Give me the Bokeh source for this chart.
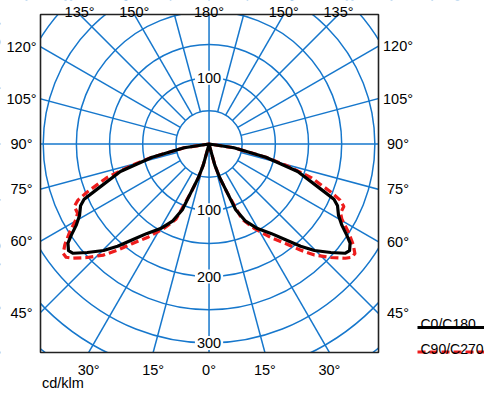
import numpy as np
from bokeh.plotting import figure
from bokeh.models import Range1d, Label
from bokeh.embed import file_html
from bokeh.resources import INLINE

# ---------------- data ----------------
# luminous intensity distribution, half-plane, gamma measured from nadir (deg), I in cd/klm
gamma_c0 = [0, 10, 15.3, 17.5, 20.2, 22.1, 25.2, 29.8, 34.7, 38.5, 41.8, 44.7, 48.3, 51.2,
            52.8, 54.9, 56.5, 58.5, 61.1, 64.3, 66.1, 67.9, 72.7, 76.9, 81.3, 90]
int_c0 = [0, 2, 33, 53, 75, 107, 128, 147, 164, 184, 207, 226, 246, 263,
          266, 260, 249, 235, 223, 215, 206, 183, 140, 88, 38, 0]

gamma_c90 = [0, 10, 15.3, 17.5, 20.2, 23.7, 28.3, 33.4, 37.7, 40.7, 43.5, 47.0, 50.0, 51.6,
             53.1, 55.1, 57.8, 60.5, 62.3, 65.1, 66.8, 68.4, 71.7, 74.5, 76.9, 81.3, 90]
int_c90 = [0, 2, 33, 53, 76, 124, 145, 169, 190, 211, 231, 251, 268, 275,
           275, 265, 248, 230, 224, 224, 215, 198, 163, 120, 88, 38, 0]

series_names = ["C0/C180", "C90/C270"]
series_colors = ["#000000", "#ee1c1c"]
unit_label = "cd/klm"

ring_values = [50, 100, 150, 200, 250, 300, 350, 400]
ring_labels_up = [100]
ring_labels_down = [100, 200, 300]
spoke_angles = list(range(0, 360, 15))
side_tick_angles = [45, 60, 75, 90, 105, 120]
top_tick_angles = [135, 150, 180]
bottom_tick_angles = [0, 15, 30]

# ---------------- layout ----------------
W, H = 484, 390
FL, FT, FS = 40, 14, 338          # diagram box left/top/size in px (figure coords)
X_MIN, X_MAX = -254.1, 255.5      # box extent, cd/klm
Y_MIN, Y_MAX = -314.4, 195.2
UPP = (X_MAX - X_MIN) / FS        # cd/klm per pixel

XLO, XHI = X_MIN - FL * UPP, X_MAX + (W - FL - FS) * UPP
YHI, YLO = Y_MAX + FT * UPP, Y_MIN - (H - FT - FS) * UPP

GRID = "#1677cc"
FONT = "Liberation Sans"
FSZ = "14.5px"

p = figure(width=W, height=H, output_backend="svg", toolbar_location=None,
           x_range=Range1d(XLO, XHI), y_range=Range1d(YLO, YHI),
           x_axis_location=None, y_axis_location=None, title=None)
p.min_border = 0
p.grid.visible = False
p.outline_line_color = None
p.background_fill_color = "white"
p.border_fill_color = "white"

# rings
p.circle(x=[0] * len(ring_values), y=[0] * len(ring_values), radius=ring_values,
         fill_color=None, line_color=GRID, line_width=1.5)

# spokes
x0s, y0s, x1s, y1s = [], [], [], []
for a in spoke_angles:
    g = np.radians(a)
    r0 = 0 if a % 90 == 0 else ring_values[0]
    r1 = 900
    x0s.append(r0 * np.sin(g)); y0s.append(-r0 * np.cos(g))
    x1s.append(r1 * np.sin(g)); y1s.append(-r1 * np.cos(g))
p.segment(x0s, y0s, x1s, y1s, line_color=GRID, line_width=1.5)

# white surround so the grid ends at the diagram box
p.quad(left=[XLO - 50, X_MAX, X_MIN, X_MIN], right=[X_MIN, XHI + 50, X_MAX, X_MAX],
       bottom=[YLO - 50, YLO - 50, Y_MAX, YLO - 50], top=[YHI + 50, YHI + 50, YHI + 50, Y_MIN],
       fill_color="white", line_color=None)
# box
p.quad(left=[X_MIN], right=[X_MAX], bottom=[Y_MIN], top=[Y_MAX],
       fill_color=None, line_color="#222222", line_width=1.6)

def full_curve(gam, inten):
    g = np.radians(np.array(gam, dtype=float))
    r = np.array(inten, dtype=float)
    xr, yr = r * np.sin(g), -r * np.cos(g)
    xs = list(xr) + list(-xr[::-1])
    ys = list(yr) + list(yr[::-1])
    return xs, ys

xs90, ys90 = full_curve(gamma_c90, int_c90)
p.line(xs90, ys90, line_color=series_colors[1], line_width=3.2, line_dash="8 4",
       line_join="round")
xs0, ys0 = full_curve(gamma_c0, int_c0)
p.line(xs0, ys0, line_color=series_colors[0], line_width=3.2, line_join="round")

def lab(x, y, text, align="center", baseline="middle", size=FSZ, **kw):
    p.add_layout(Label(x=x, y=y, text=text, text_align=align, text_baseline=baseline,
                       text_font=FONT, text_font_size=size, text_color="black", **kw))

# ring labels
for v in ring_labels_up:
    lab(0, v, str(v), background_fill_color="white", padding=2)
for v in ring_labels_down:
    lab(0, -v, str(v), background_fill_color="white", padding=2)

# side angle labels
for a in side_tick_angles:
    g = np.radians(a)
    yl = X_MIN * np.cos(g) / np.sin(g)
    yr = -X_MAX * np.cos(g) / np.sin(g)
    lab(X_MIN - 19 * UPP, yl, f"{a}°")
    lab(X_MAX + 19.5 * UPP, yr, f"{a}°")

# top angle labels
for a in top_tick_angles:
    g = np.radians(a)
    xt = Y_MAX * np.sin(g) / (-np.cos(g))
    for s in ([1] if a == 180 else [-1, 1]):
        lab(s * xt, Y_MAX + 2.5 * UPP, f"{a}°", baseline="alphabetic")

# bottom angle labels
for a in bottom_tick_angles:
    g = np.radians(a)
    xb = -Y_MIN * np.tan(g)
    for s in ([1] if a == 0 else [-1, 1]):
        lab(s * xb, Y_MIN - 17 * UPP, f"{a}°", baseline="alphabetic")

# unit label
lab(X_MIN + 1.5 * UPP, Y_MIN - 30.5 * UPP, unit_label, align="left", baseline="alphabetic")

# legend (text with line beneath)
leg_text_dy = [-28.3, -3.3]     # px relative to box bottom (negative = above)
leg_line_dy = [-25.0, -0.5]
leg_dash = ["solid", "8 4"]
for name, col, ty, ly, dash in zip(series_names, series_colors, leg_text_dy, leg_line_dy, leg_dash):
    lab(X_MAX + 42 * UPP, Y_MIN - ty * UPP, name, align="left", baseline="alphabetic", size="14px")
    p.line([X_MAX + 39 * UPP, XHI + 10], [Y_MIN - ly * UPP] * 2,
           line_color=col, line_width=3.2, line_dash=dash)

open("out.html", "w").write(file_html(p, INLINE))
